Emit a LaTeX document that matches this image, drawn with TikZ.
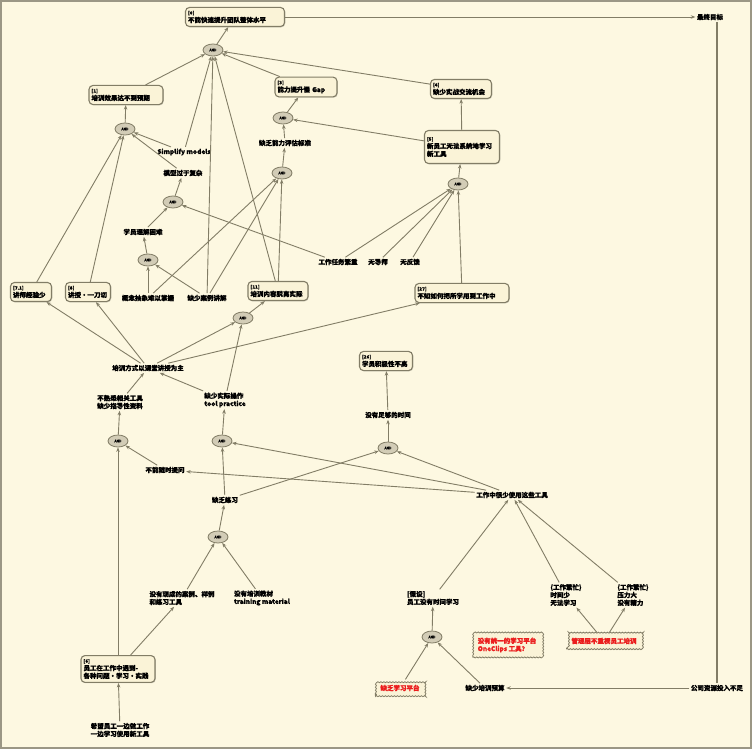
\documentclass[tikz,border=0pt]{standalone}
\usepackage{fontspec}
\setmainfont{Noto Sans CJK SC}[FakeBold=1.3]
\usetikzlibrary{shapes.geometric,arrows.meta,shadows,decorations.pathmorphing}
\definecolor{bg}{RGB}{253,248,225}
\definecolor{lc}{RGB}{130,125,102}
\definecolor{bfill}{RGB}{250,243,215}
\definecolor{afill}{RGB}{210,204,182}
\definecolor{redt}{RGB}{235,30,30}
\newcommand\boxtag[1]{{\fontsize{4.5}{5}\selectfont #1}}
\begin{document}
\begin{tikzpicture}[x=1pt,y=-1pt,
  box/.style={draw=lc, rounded corners=4pt, fill=bfill, line width=1.1pt, align=left, inner xsep=2.5pt, inner ysep=3.5pt, font=\bfseries\fontsize{6.5}{7.8}\selectfont, drop shadow={shadow xshift=0.8pt, shadow yshift=-0.8pt, fill=lc!70}},
  andn/.style={ellipse, draw=lc, fill=afill, line width=0.8pt, minimum width=20pt, minimum height=12pt, inner sep=0pt, font=\fontsize{3.5}{4}\selectfont},
  txt/.style={align=left, inner sep=1.5pt, font=\bfseries\fontsize{6.5}{7.8}\selectfont},
  redbox/.style={txt, text=redt, draw=lc, fill=bfill, line width=0.8pt, inner sep=5pt, decorate, decoration={snake, amplitude=0.5pt, segment length=3pt}},
  arr/.style={draw=lc, line width=0.9pt, -{Stealth[length=4.5pt,width=3.5pt]}},
  ln/.style={draw=lc, line width=1.1pt},
]
\useasboundingbox (0,0) rectangle (752,749);
\fill[bg] (0,0) rectangle (752,749);
\draw[lc!80, line width=2pt] (1,1) rectangle (751,748);

% boxes
\node[box, text width=94pt] (b0) at (235,17) {\boxtag{[0]}\\不能快速提升团队整体水平};
\node[box, text width=69pt] (b1) at (126,95) {\boxtag{[1]}\\培训效果达不到预期};
\node[box, text width=57pt] (b3) at (306,87) {\boxtag{[3]}\\能力提升慢 Gap};
\node[box, text width=56pt] (b4) at (461,89) {\boxtag{[4]}\\缺少实战交流机会};
\node[box, text width=70pt, minimum height=33pt] (b5) at (462,147) {\boxtag{[5]}\\新员工无法系统地学习\\新工具};
\node[box, text width=36pt] (b7) at (31,292) {\boxtag{[7.1]}\\讲师经验少};
\node[box, text width=40pt] (b8) at (88,292) {\boxtag{[8]}\\讲授·一刀切};
\node[box, text width=55pt] (b11) at (278,291) {\boxtag{[11]}\\培训内容脱离实际};
\node[box, text width=89pt] (b27) at (462,293) {\boxtag{[27]}\\不知如何把所学用到工作中};
\node[box, text width=48pt] (b26) at (386,361) {\boxtag{[26]}\\学员积极性不高};
\node[box, text width=69pt] (b6) at (118,669) {\boxtag{[6]}\\员工在工作中遇到-\\各种问题·学习·实践};

% AND nodes
\node[andn] (a1) at (213,50) {AND};
\node[andn] (a2) at (125,129) {AND};
\node[andn] (a3) at (173,202) {AND};
\node[andn] (a4) at (148,260) {AND};
\node[andn] (a5) at (283,118) {AND};
\node[andn] (a6) at (282,173) {AND};
\node[andn] (a7) at (243,318) {AND};
\node[andn] (a8) at (458,184) {AND};
\node[andn] (a9) at (388,448) {AND};
\node[andn] (a10) at (222,441) {AND};
\node[andn] (a11) at (118,441) {AND};
\node[andn] (a12) at (432,637) {AND};
\node[andn] (a13) at (218,537) {AND};

% text nodes
\node[txt] (goal) at (710,17) {最终目标};
\node[txt] (tsimp) at (184,152) {Simplify models};
\node[txt] (tmodel) at (183,173) {模型过于复杂};
\node[txt] (tund) at (143,232) {学员理解困难};
\node[txt] (tabs) at (148,298) {概念抽象难以掌握};
\node[txt] (tcase) at (207,298) {缺少案例讲解};
\node[txt] (tbusy) at (338,262) {工作任务繁重};
\node[txt] (tnom) at (378,262) {无导师};
\node[txt] (tnofb) at (410,262) {无反馈};
\node[txt] (tcap) at (285,143) {缺乏能力评估标准};
\node[txt] (tlong) at (148,368) {培训方式以课堂讲授为主};
\node[txt] (ttools) at (120,402) {不熟悉相关工具\\缺少指导性资料};
\node[txt] (tprac) at (225,400) {缺少实际操作\\tool practice};
\node[txt] (task) at (165,470) {不能随时提问};
\node[txt] (ttime) at (388,415) {没有足够的时间};
\node[txt] (tR) at (512,495) {工作中很少使用这些工具};
\node[txt] (tex) at (225,500) {缺乏练习};
\node[txt] (tcase2) at (182,598) {没有现成的案例、样例\\和练习工具};
\node[txt] (tmat) at (262,598) {没有培训教材\\training material};
\node[txt] (thyp) at (433,598) {[假设]\\员工没有时间学习};
\node[txt] (tb1) at (566,595) {(工作繁忙)\\时间少\\无法学习};
\node[txt] (tb2) at (633,595) {(工作繁忙)\\压力大\\没有精力};
\node[redbox] (r1) at (604,641) {管理层不重视员工培训};
\node[redbox] (r2) at (507,645) {没有统一的学习平台\\OneClips 工具？};
\node[redbox] (r3) at (400,688) {缺乏学习平台};
\node[txt] (tbud) at (485,688) {缺少培训预算};
\node[txt] (tres) at (717,688) {公司资源投入不足};
\node[txt] (tbot) at (120,730) {希望员工一边做工作\\一边学习使用新工具};

% connectors
\draw[arr] (b0) -- (goal);
\draw[ln] (tres.north) -- (tres.north |- goal.south);
\draw[arr] (tres) -- (tbud);

\draw[arr] (a1) -- (b0);
\draw[arr] (b1) -- (a1);
\draw[arr] (b3) -- (a1);
\draw[arr] (b4) -- (a1);
\draw[arr] (tsimp) -- (a1);
\draw[arr] (tcase) -- (a1);
\draw[arr] (b11) -- (a1);

\draw[arr] (a2) -- (b1);
\draw[arr] (tsimp) -- (a2);
\draw[arr] (tmodel) -- (a2);
\draw[arr] (b7) -- (a2);
\draw[arr] (b8) -- (a2);

\draw[arr] (a3) -- (tmodel);
\draw[arr] (tund) -- (a3);
\draw[arr] (tbusy) -- (a3);

\draw[arr] (a4) -- (tund);
\draw[arr] (tabs) -- (a4);
\draw[arr] (tcase) -- (a4);

\draw[arr] (a5) -- (b3);
\draw[arr] (b5) -- (a5);
\draw[arr] (tcap) -- (a5);

\draw[arr] (a6) -- (tcap);
\draw[arr] (tabs) -- (a6);
\draw[arr] (tcase) -- (a6);
\draw[arr] (b11) -- (a6);

\draw[arr] (a7) -- (b11);
\draw[arr] (tlong) -- (a7);
\draw[arr] (tprac) -- (a7);
\draw[arr] (tlong) -- (b7);
\draw[arr] (tlong) -- (b8);
\draw[arr] (tlong) -- (b27);

\draw[arr] (b27) -- (a8);
\draw[arr] (tbusy) -- (a8);
\draw[arr] (tnom) -- (a8);
\draw[arr] (tnofb) -- (a8);
\draw[arr] (a8) -- (b5);
\draw[arr] (b5) -- (b4);

\draw[arr] (ttime) -- (b26);
\draw[arr] (a9) -- (ttime);
\draw[arr] (tex) -- (a9);
\draw[arr] (tR) -- (a9);

\draw[arr] (a10) -- (tprac);
\draw[arr] (tex) -- (a10);
\draw[arr] (tR) -- (a10);

\draw[arr] (a11) -- (ttools);
\draw[arr] (ttools) -- (tlong);
\draw[arr] (tprac) -- (tlong);
\draw[arr] (task) -- (a11);
\draw[arr] (b6) -- (a11);
\draw[arr] (tR) -- (task);

\draw[arr] (thyp) -- (tR);
\draw[arr] (tb1) -- (tR);
\draw[arr] (tb2) -- (tR);
\draw[arr] (r1) -- (tb1);
\draw[arr] (r1) -- (tb2);

\draw[arr] (a12) -- (thyp);
\draw[arr] (r3) -- (a12);
\draw[arr] (tbud) -- (a12);

\draw[arr] (b6) -- (tcase2);
\draw[arr] (tcase2) -- (a13);
\draw[arr] (tmat) -- (a13);
\draw[arr] (a13) -- (tex);
\draw[arr] (tbot) -- (b6);
\end{tikzpicture}
\end{document}
